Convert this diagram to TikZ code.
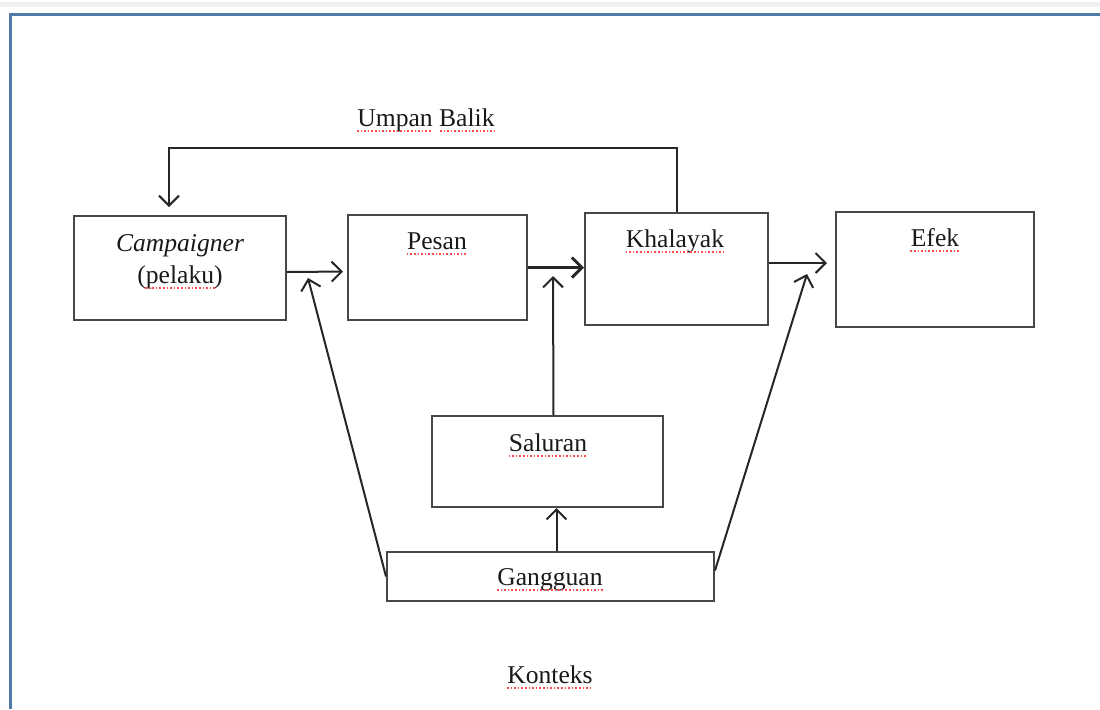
\documentclass[tikz,border=0pt]{standalone}
\usepackage{fontspec}
\setmainfont{Liberation Serif}
\usetikzlibrary{positioning,arrows.meta}

% red spell-check underline below a text node
\newcommand{\wavy}[1]{%
  \draw[spell] ([yshift=-2.5pt]#1.base west) -- ([yshift=-2.5pt]#1.base east);}

\begin{document}
\begin{tikzpicture}[
    x=0.5pt, y=-0.5pt,
    every node/.style={font=\fontsize{12.8}{15}\selectfont, inner sep=0pt, text=black!90},
    box/.style={draw=black!72, line width=1pt, rectangle, inner sep=0pt},
    arr/.style={draw=black!85, line width=1pt, -{Straight Barb[length=5pt,width=10pt]}},
    spell/.style={red!70, densely dotted, line width=0.8pt},
    frame/.style={draw={rgb,255:red,79;green,122;blue,166}, line width=1.5pt},
  ]
    \useasboundingbox (0,0) rectangle (1100,709);

    % window edge and frame
    \fill[gray!12] (0,2) rectangle (1100,7);
    \draw[frame] (10,709) -- (10,14.5) -- (1100,14.5);

    % boxes (pixel coordinates, centre)
    \node[box, minimum width=106pt, minimum height=52pt]   (camp)  at (180,268) {};
    \node[box, minimum width=89.5pt, minimum height=52.5pt] (pesan) at (437.5,267.5) {};
    \node[box, minimum width=91.5pt, minimum height=56pt]  (khal)  at (676.5,269) {};
    \node[box, minimum width=99pt, minimum height=57.5pt]  (efek)  at (935,269.5) {};
    \node[box, minimum width=115.5pt, minimum height=45.5pt] (salur) at (547.5,461.5) {};
    \node[box, minimum width=163.5pt, minimum height=24.5pt] (gang)  at (550.5,576.5) {};

    % texts
    \node[anchor=base] (umpanT) at (426,126) {Umpan Balik};
    \node[anchor=base] (campT)  at (180,251) {\itshape Campaigner};
    \node[anchor=base] (pelT)   at (180,283) {(pelaku)};
    \node[anchor=base] (pesanT) at (437,249) {Pesan};
    \node[anchor=base] (khalT)  at (675,247) {Khalayak};
    \node[anchor=base] (efekT)  at (935,246) {Efek};
    \node[anchor=base] (salurT) at (548,451) {Saluran};
    \node[anchor=base] (gangT)  at (550,585) {Gangguan};
    \node[anchor=base] (kontT)  at (550,683) {Konteks};

    % spell marks
    \draw[spell] ([yshift=-2.5pt]umpanT.base west) -- ([yshift=-2.5pt,xshift=37.5pt]umpanT.base west);
    \draw[spell] ([yshift=-2.5pt,xshift=-27.5pt]umpanT.base east) -- ([yshift=-2.5pt]umpanT.base east);
    \draw[spell] ([yshift=-2.5pt,xshift=4pt]pelT.base west) -- ([yshift=-2.5pt,xshift=-4pt]pelT.base east);
    \wavy{pesanT}
    \wavy{khalT}
    \wavy{efekT}
    \wavy{salurT}
    \wavy{gangT}
    \wavy{kontT}

    % free ends of the noise arrows
    \coordinate (tipL) at (308,278);
    \coordinate (tipM) at (553,276);
    \coordinate (tipR) at (807,274);
    \coordinate (fb)   at (169,148);

    % main flow
    \draw[arr, shorten >=2pt] ([yshift=-2pt]camp.east) -- ([yshift=-2pt]pesan.west);
    \draw[arr, line width=1.5pt] (pesan.east) -- (pesan.east -| khal.west);
    \draw[arr, shorten >=4pt] ([yshift=3pt]khal.east) -- ([yshift=3pt]khal.east -| efek.west);

    % feedback
    \draw[arr, shorten >=4pt] (khal.north) |- (fb) -- ([xshift=-5.5pt]camp.north);

    % channel and noise
    \draw[arr] ([xshift=3pt]salur.north) -- (tipM);
    \draw[arr] ([xshift=3pt]gang.north) -- ([xshift=3pt]gang.north |- salur.south);
    \draw[arr] (gang.west) -- (tipL);
    \draw[arr] ([yshift=3pt]gang.east) -- (tipR);
\end{tikzpicture}
\end{document}
